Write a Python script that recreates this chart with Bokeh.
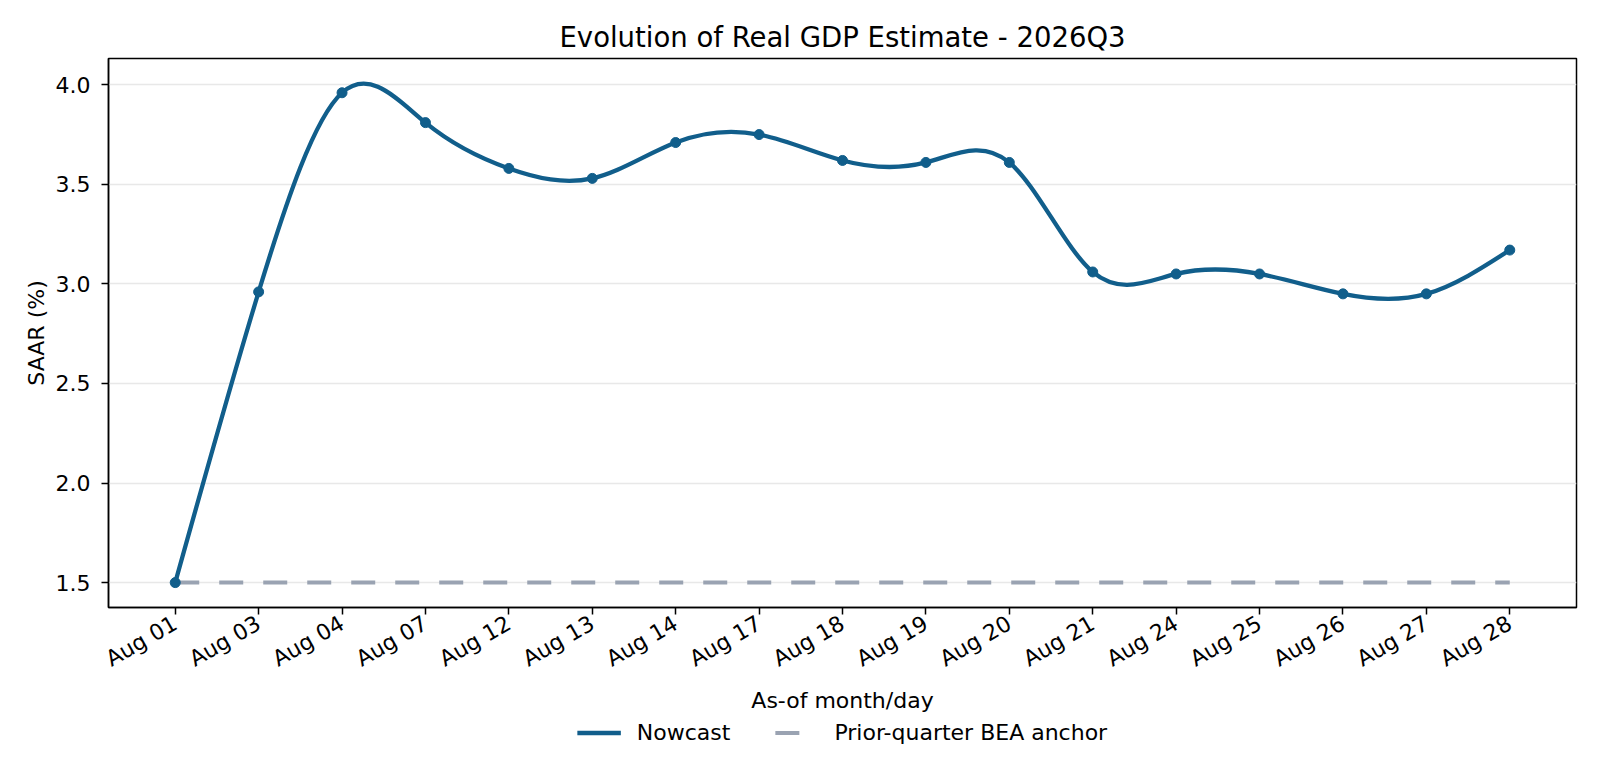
import numpy as np
from bokeh.plotting import figure
from bokeh.layouts import column
from bokeh.models import (FixedTicker, Legend, LegendItem, ColumnDataSource, Range1d,
                          NumeralTickFormatter)
from bokeh.embed import file_html
from bokeh.resources import INLINE

# ---- data ----
dates = ["Aug 01", "Aug 03", "Aug 04", "Aug 07", "Aug 12", "Aug 13", "Aug 14", "Aug 17",
         "Aug 18", "Aug 19", "Aug 20", "Aug 21", "Aug 24", "Aug 25", "Aug 26", "Aug 27", "Aug 28"]
nowcast = [1.50, 2.96, 3.96, 3.81, 3.58, 3.53, 3.71, 3.75,
           3.62, 3.61, 3.61, 3.06, 3.05, 3.05, 2.95, 2.95, 3.17]
anchor_value = 1.50
y_ticks = [1.5, 2.0, 2.5, 3.0, 3.5, 4.0]

BLUE = "#115e8b"
GRAY = "#9aa3b2"
FONT = "DejaVu Sans"

x = np.arange(len(dates), dtype=float)
y = np.array(nowcast, dtype=float)
n = len(y)

# natural cubic spline (unit spacing) -> Bezier segments for a smooth drawn line
A = np.zeros((n, n))
b = np.zeros(n)
A[0, 0] = 1.0
A[-1, -1] = 1.0
for i in range(1, n - 1):
    A[i, i - 1] = 1.0
    A[i, i] = 4.0
    A[i, i + 1] = 1.0
    b[i] = 6.0 * (y[i + 1] - 2 * y[i] + y[i - 1])
M = np.linalg.solve(A, b)
dy = y[1:] - y[:-1]
d0 = dy - (2 * M[:-1] + M[1:]) / 6.0
d1 = dy + (M[:-1] + 2 * M[1:]) / 6.0
bez = ColumnDataSource(dict(
    x0=x[:-1], y0=y[:-1], x1=x[1:], y1=y[1:],
    cx0=x[:-1] + 1 / 3, cy0=y[:-1] + d0 / 3,
    cx1=x[1:] - 1 / 3, cy1=y[1:] - d1 / 3,
))

p = figure(width=1584, height=716, output_backend="svg", toolbar_location=None,
           x_range=Range1d(-0.8, 16.8), y_range=Range1d(1.375, 4.132),
           min_border_left=108, min_border_right=8, min_border_top=58, min_border_bottom=107)

p.title.text = "Evolution of Real GDP Estimate - 2026Q3"
p.title.align = "center"
p.title.text_font = FONT
p.title.text_font_size = "27.5px"
p.title.text_font_style = "normal"
p.title.text_color = "black"
p.title.standoff = 12

p.outline_line_color = "black"
p.outline_line_width = 1.5
p.background_fill_color = "white"
p.border_fill_color = "white"

p.xgrid.grid_line_color = None
p.ygrid.grid_line_color = "#e8e8e8"
p.ygrid.grid_line_width = 1.3
p.ygrid.ticker = FixedTicker(ticks=y_ticks)

# anchor dashed line
anchor_r = p.line([x[0], x[-1]], [anchor_value, anchor_value], line_color=GRAY,
                  line_width=4, line_dash="24 20")

# smooth nowcast curve
p.bezier(x0="x0", y0="y0", x1="x1", y1="y1", cx0="cx0", cy0="cy0", cx1="cx1", cy1="cy1",
         source=bez, line_color=BLUE, line_width=4.3)
p.scatter(x, y, size=10, fill_color=BLUE, line_color=BLUE)

# axes
p.xaxis.ticker = FixedTicker(ticks=list(range(len(dates))))
p.xaxis.major_label_overrides = {i: d for i, d in enumerate(dates)}
p.xaxis.major_label_orientation = np.pi / 6
p.xaxis.axis_label = "As-of month/day"
p.yaxis.axis_label = "SAAR (%)"
p.yaxis.ticker = FixedTicker(ticks=y_ticks)
p.yaxis.formatter = NumeralTickFormatter(format="0.0")

for ax in (p.xaxis, p.yaxis):
    ax.major_label_text_font = FONT
    ax.major_label_text_font_size = "22px"
    ax.major_label_text_color = "black"
    ax.axis_label_text_font = FONT
    ax.axis_label_text_font_size = "22px"
    ax.axis_label_text_font_style = "normal"
    ax.axis_label_text_color = "black"
    ax.axis_line_color = "black"
    ax.axis_line_width = 1.5
    ax.major_tick_line_color = "black"
    ax.major_tick_line_width = 1.5
    ax.major_tick_out = 7
    ax.major_tick_in = 0
    ax.minor_tick_line_color = None
p.xaxis.major_label_standoff = 7
p.yaxis.major_label_standoff = 11
p.xaxis.axis_label_standoff = 3
p.yaxis.axis_label_standoff = 4

# ---- legend strip under the chart ----
lg = figure(width=1584, height=32, output_backend="svg", toolbar_location=None,
            x_range=Range1d(0, 1), y_range=Range1d(0, 1),
            x_axis_type=None, y_axis_type=None,
            min_border_left=0, min_border_right=0, min_border_top=0, min_border_bottom=0)
lg.outline_line_color = None
lg.xgrid.grid_line_color = None
lg.ygrid.grid_line_color = None
proxy_now = lg.line(x=[0.0], y=[0.0], line_color=BLUE, line_width=4.3)
proxy_anchor = lg.line(x=[0.0], y=[0.0], line_color=GRAY, line_width=4, line_dash="24 20")

legend = Legend(items=[LegendItem(label="Nowcast", renderers=[proxy_now]),
                       LegendItem(label="Prior-quarter BEA anchor", renderers=[proxy_anchor])],
                orientation="horizontal", location="center")
legend.label_text_font = FONT
legend.label_text_font_size = "22px"
legend.label_text_color = "black"
legend.border_line_color = None
legend.background_fill_alpha = 0
legend.glyph_width = 44
legend.label_standoff = 16
legend.spacing = 44
legend.padding = 2
legend.margin = 0
lg.add_layout(legend, "center")

layout = column(p, lg, spacing=0)
open("out.html", "w").write(file_html(layout, INLINE))
